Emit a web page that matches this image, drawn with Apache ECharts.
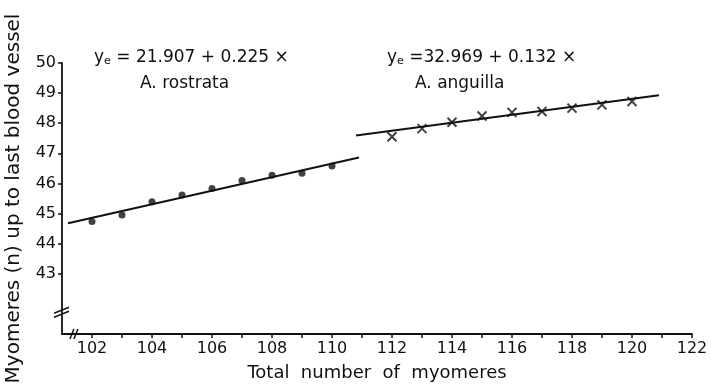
<!DOCTYPE html>
<html>
<head>
<meta charset="utf-8">
<script src="https://cdn.jsdelivr.net/npm/echarts@6/dist/echarts.min.js"></script>
<style>
  html, body {margin: 0; padding: 0; background: #fff;}
  #chart {width: 711px; height: 384px;}
</style>
</head>
<body>
<div id="chart"></div>
<script>
// axis ranges and ticks
const xMin = 101, xMax = 122;
const yMin = 41, yMax = 50;
const xTicks = [102, 103, 104, 105, 106, 107, 108, 109, 110, 111, 112, 113, 114, 115, 116, 117, 118, 119, 120, 121, 122];
const xLabels = [102, 104, 106, 108, 110, 112, 114, 116, 118, 120, 122];
const yTicks = [43, 44, 45, 46, 47, 48, 49, 50];
const xBreakAt = 101.43;
const yBreakAt = 41.72;

// A. rostrata (dots)
const rostrataX = [102, 103, 104, 105, 106, 107, 108, 109, 110];
const rostrataY = [44.74, 44.95, 45.39, 45.62, 45.83, 46.10, 46.27, 46.34, 46.58];
const rostrataFitX = [101.2, 110.9];
const rostrataFitY = [44.68, 46.86];

// A. anguilla (crosses)
const anguillaX = [112, 113, 114, 115, 116, 117, 118, 119, 120];
const anguillaY = [47.55, 47.82, 48.03, 48.24, 48.36, 48.39, 48.50, 48.61, 48.72];
const anguillaFitX = [110.8, 120.9];
const anguillaFitY = [47.59, 48.93];

const equations = ['21.907 + 0.225 ×', '32.969 + 0.132 ×'];
const species = ['A. rostrata', 'A. anguilla'];

const font = 'DejaVu Sans';
const ink = '#111';

const zip = (xs, ys) => xs.map((x, i) => [x, ys[i]]);

const chart = echarts.init(document.getElementById('chart'));

const eqText = (i) => ({
  type: 'text',
  left: i === 0 ? 94 : 387,
  top: 49,
  style: {
    text: '{y|y}{e|e}{eq| ' + (i === 0 ? '= ' : '=') + equations[i] + '}',
    rich: {
      y: {fontFamily: font, fontSize: 17, fill: ink},
      e: {fontFamily: font, fontSize: 11, fill: ink, verticalAlign: 'bottom', padding: [7, 0, 0, 0]},
      eq: {fontFamily: font, fontSize: 17, fill: ink}
    }
  }
});

const spText = (i) => ({
  type: 'text',
  left: i === 0 ? 140 : 415,
  top: 75,
  style: {text: species[i], fontFamily: font, fontSize: 17, fill: ink}
});

chart.setOption({
  animation: false,
  backgroundColor: '#fff',
  grid: {left: 62, right: 19, top: 63, bottom: 50, containLabel: false, outerBoundsMode: 'none'},
  xAxis: {
    type: 'value',
    min: xMin,
    max: xMax,
    interval: 1,
    name: 'Total  number  of  myomeres',
    nameLocation: 'middle',
    nameGap: 30,
    nameTextStyle: {fontFamily: font, fontSize: 18, color: ink},
    axisLine: {lineStyle: {color: ink, width: 1.8}},
    axisTick: {show: true, customValues: xTicks, length: 4, lineStyle: {color: ink, width: 1.5}},
    axisLabel: {customValues: xLabels, fontFamily: font, fontSize: 16, color: ink, margin: 7},
    splitLine: {show: false}
  },
  yAxis: {
    type: 'value',
    min: yMin,
    max: yMax,
    interval: 1,
    name: 'Myomeres (n) up to last blood vessel',
    nameLocation: 'middle',
    nameGap: 38,
    nameTextStyle: {fontFamily: font, fontSize: 20, color: ink},
    axisLine: {lineStyle: {color: ink, width: 1.8}},
    axisTick: {show: true, customValues: yTicks, length: 4, lineStyle: {color: ink, width: 1.5}},
    axisLabel: {customValues: yTicks, fontFamily: font, fontSize: 16, color: ink, margin: 6},
    splitLine: {show: false}
  },
  series: [
    {
      name: 'rostrata fit',
      type: 'line',
      data: zip(rostrataFitX, rostrataFitY),
      symbol: 'none',
      lineStyle: {color: ink, width: 2}
    },
    {
      name: 'anguilla fit',
      type: 'line',
      data: zip(anguillaFitX, anguillaFitY),
      symbol: 'none',
      lineStyle: {color: ink, width: 2}
    },
    {
      name: 'A. rostrata',
      type: 'scatter',
      data: zip(rostrataX, rostrataY),
      symbol: 'circle',
      symbolSize: 7,
      itemStyle: {color: ink}
    },
    {
      name: 'A. anguilla',
      type: 'scatter',
      data: zip(anguillaX, anguillaY),
      symbol: 'path://M0,0L10,10M10,0L0,10',
      symbolSize: 9,
      itemStyle: {color: 'rgba(0,0,0,0)', borderColor: ink, borderWidth: 2}
    }
  ]
});

// axis break marks, placed from axis coordinates
const [ax, by] = chart.convertToPixel({gridIndex: 0}, [xMin, yBreakAt]);
const [bx, ay] = chart.convertToPixel({gridIndex: 0}, [xBreakAt, yMin]);

const seg = (x1, y1, x2, y2) => ({
  type: 'line',
  shape: {x1, y1, x2, y2},
  style: {stroke: ink, lineWidth: 1.5}
});

chart.setOption({
  graphic: [
    eqText(0), eqText(1), spText(0), spText(1),
    {type: 'rect', shape: {x: ax - 3, y: by - 3, width: 6, height: 5}, style: {fill: '#fff'}},
    seg(ax - 8, by + 1, ax + 7, by - 5),
    seg(ax - 8, by + 5, ax + 7, by - 1),
    {type: 'rect', shape: {x: bx - 2, y: ay - 3, width: 4, height: 6}, style: {fill: '#fff'}},
    seg(bx - 5, ay + 5, bx - 1, ay - 5),
    seg(bx - 1, ay + 5, bx + 3, ay - 5)
  ]
});
</script>
</body>
</html>
